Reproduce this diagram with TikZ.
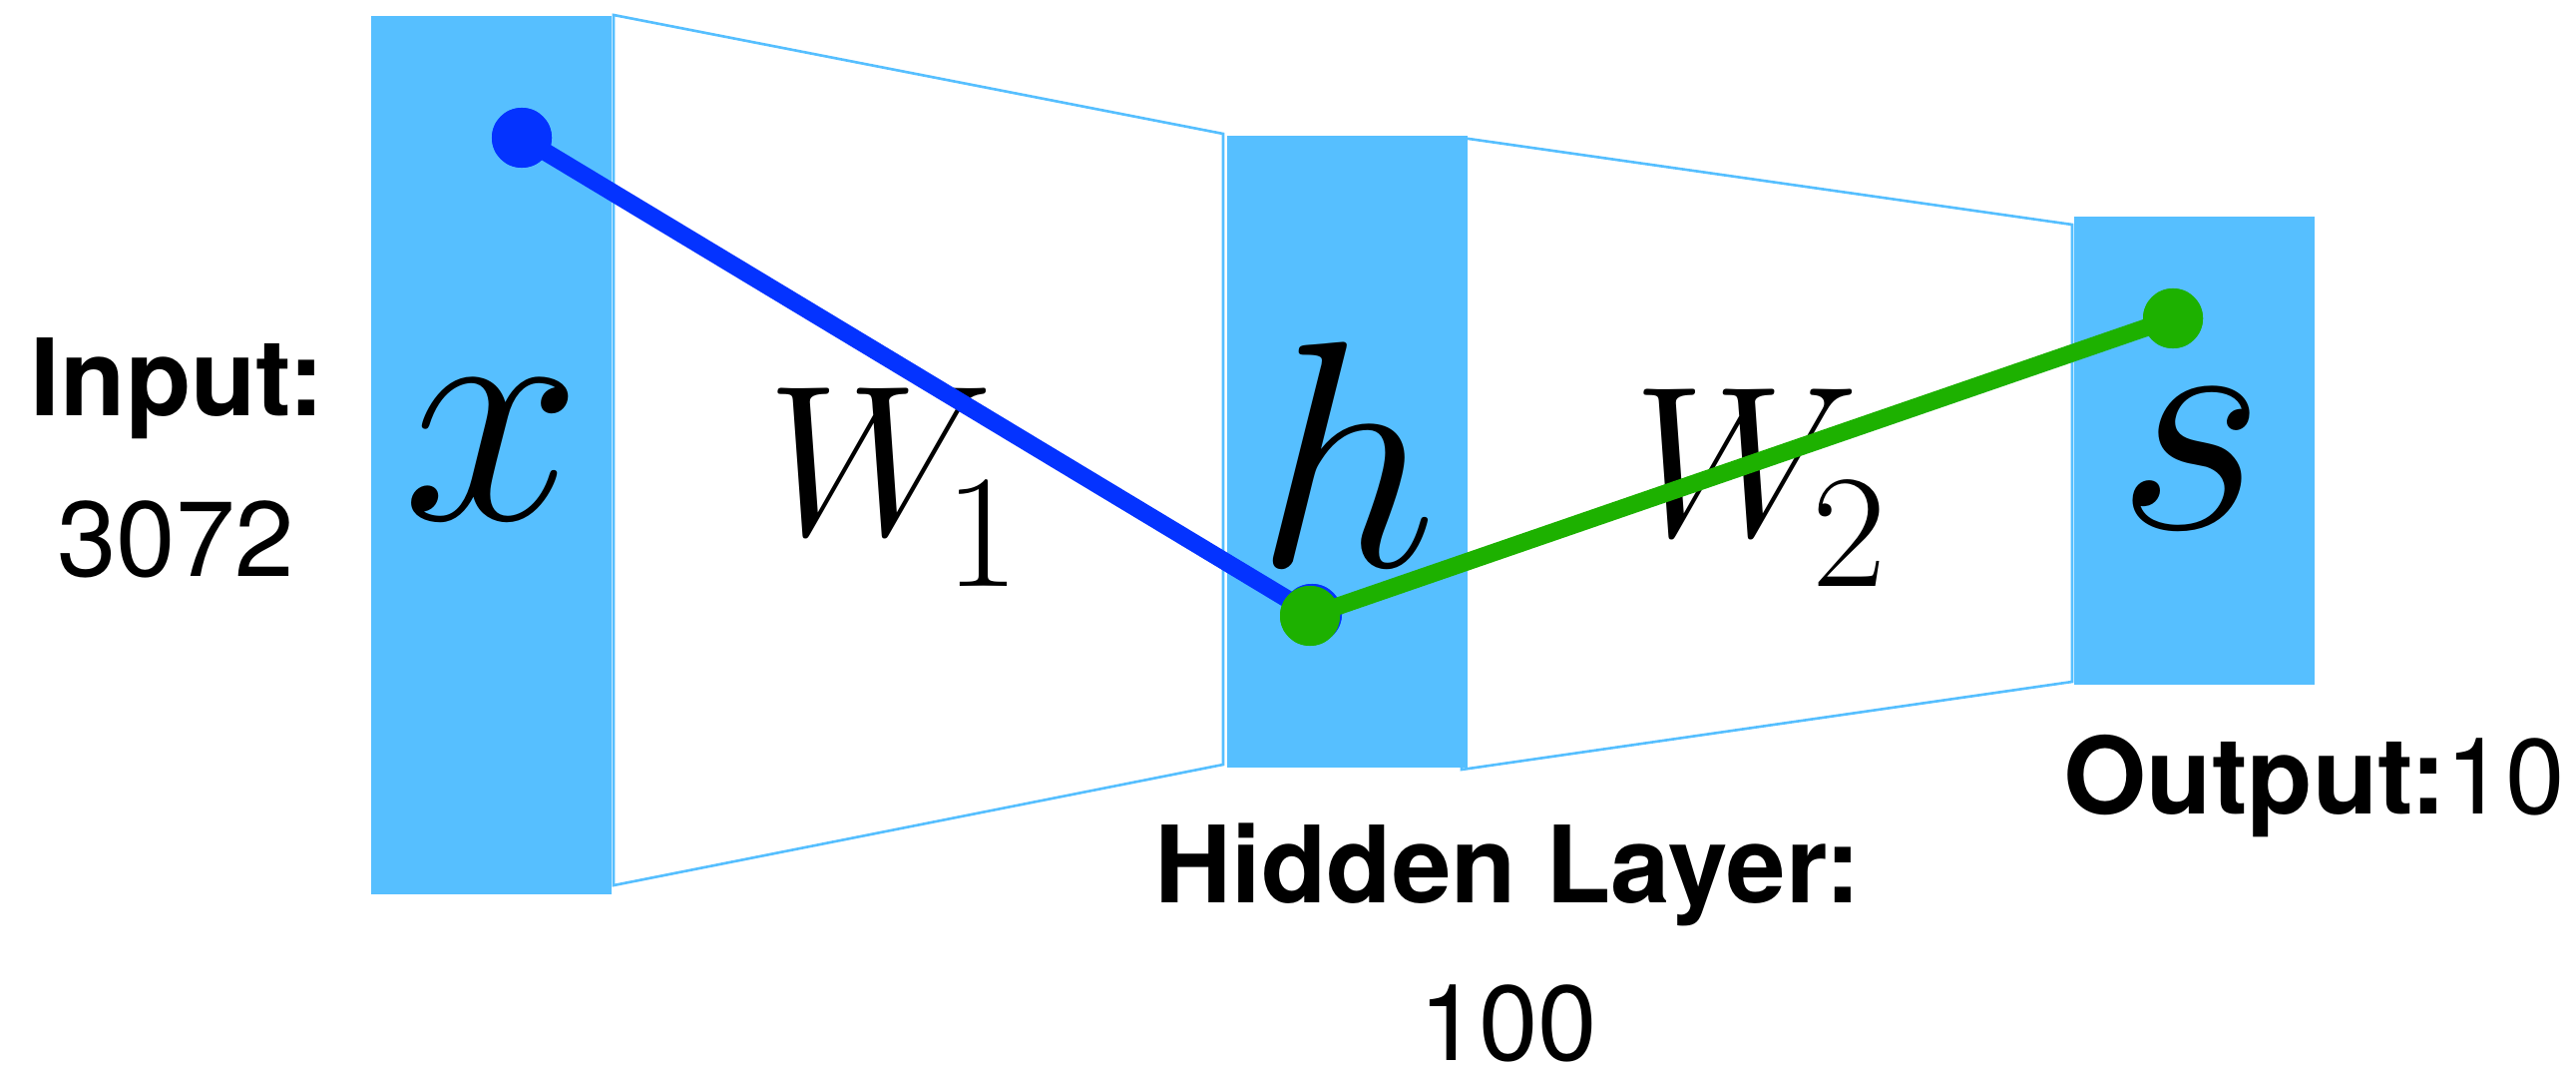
\RequirePackage{fix-cm}
\documentclass[tikz,border=0pt]{standalone}
\usepackage[no-math]{fontspec}
\setmainfont{TeX Gyre Heros}
\definecolor{layerblue}{RGB}{86,191,255}
\definecolor{wireblue}{RGB}{4,51,255}
\definecolor{wiregreen}{RGB}{29,177,0}
\tikzset{
  layer/.style={fill=layerblue, draw=none},
  outline/.style={draw=layerblue, line width=0.75pt, line join=miter},
  dotnode/.style={circle, inner sep=0pt, minimum size=0.6cm},
  wire/.style={line width=5pt},
  lbl/.style={inner sep=0pt, anchor=base, font=\fontsize{30.4}{34}\selectfont},
  bigvar/.style={inner sep=0pt, anchor=base, font=\fontsize{92}{92}\selectfont},
  wvar/.style={inner sep=0pt, anchor=base, font=\fontsize{61}{62}\selectfont},
  subvar/.style={inner sep=0pt, anchor=base, font=\fontsize{46}{46}\selectfont},
}
\begin{document}
\begin{tikzpicture}[x=0.01cm,y=-0.01cm]
\useasboundingbox (0,0) rectangle (2582,1073);
% trapezoids
\draw[outline] (615,15) -- (1226,134) -- (1226,766) -- (615,887) -- cycle;
\draw[outline] (1465,138) -- (2077,225) -- (2077,683) -- (1465,771) -- cycle;
% layers
\fill[layer] (372,16) rectangle (613,896);
\fill[layer] (1230,136) rectangle (1471,769);
\fill[layer] (2079,217) rectangle (2320,686);
% variable labels
\node[bigvar] (xlab) at (494,520) {$x$};
\node[bigvar] (hlab) at (1350,567) {$h$};
\node[bigvar] (slab) at (2196,529) {$s$};
\node[wvar] (w1) at (882,535) {$W$};
\node[subvar] (w1s) at (985,587) {$\mathrm{1}$};
\node[wvar] (w2) at (1750,536) {$W$};
\node[subvar] (w2s) at (1854,587) {$\mathrm{2}$};
% dots and wires
\node[dotnode, fill=wireblue] (din) at (523,138) {};
\node[dotnode, fill=wireblue] (dhb) at (1315,615) {};
\draw[wire, wireblue] (din.center) -- (dhb.center);
\node[dotnode, fill=wireblue] at (din.center) {};
\node[dotnode, fill=wireblue] at (dhb.center) {};
\node[dotnode, fill=wiregreen] (dhg) at (1313,617) {};
\node[dotnode, fill=wiregreen] (dout) at (2178,319) {};
\draw[wire, wiregreen] (dhg.center) -- (dout.center);
\node[dotnode, fill=wiregreen] at (dhg.center) {};
\node[dotnode, fill=wiregreen] at (dout.center) {};
% text labels
\node[lbl] (inl) at (178,416) {\bfseries Input:};
\node[lbl] (inn) at (176,577) {3072};
\node[lbl] (hl) at (1511,904) {\bfseries Hidden Layer:};
\node[lbl] (hn) at (1512,1062) {100};
\node[lbl, anchor=base west] (ol) at (2068,815) {\bfseries Output:\mdseries 10};
\end{tikzpicture}
\end{document}
